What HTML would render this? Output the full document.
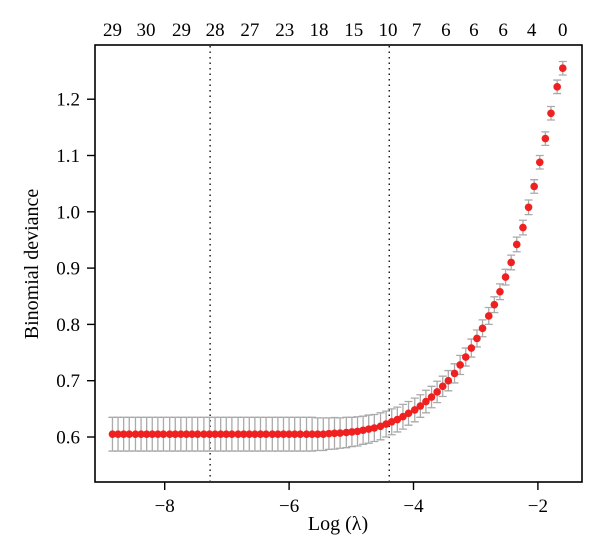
<!DOCTYPE html>
<html><head><meta charset="utf-8"><style>
html,body{margin:0;padding:0;background:#fff;}
svg{display:block;font-family:"Liberation Serif",serif;}
</style></head><body>
<svg id="chart" width="600" height="555" viewBox="0 0 600 555" xmlns="http://www.w3.org/2000/svg">
<rect x="95" y="45" width="487" height="437" fill="none" stroke="#000" stroke-width="1.6"/>
<text x="338" y="530" font-size="20" text-anchor="middle">Log (λ)</text>
<text x="38" y="264" font-size="20" text-anchor="middle" transform="rotate(-90 38 264)">Binomial deviance</text>
<g id="g"></g>
</svg>
<script>
const logLambda=[-8.84,-8.75,-8.66,-8.57,-8.47,-8.38,-8.29,-8.20,-8.11,-8.02,-7.92,-7.83,-7.74,-7.65,-7.56,-7.47,-7.37,-7.28,-7.19,-7.10,-7.01,-6.92,-6.82,-6.73,-6.64,-6.55,-6.46,-6.37,-6.27,-6.18,-6.09,-6.00,-5.91,-5.82,-5.72,-5.63,-5.54,-5.45,-5.36,-5.27,-5.18,-5.08,-4.99,-4.90,-4.81,-4.72,-4.63,-4.53,-4.44,-4.35,-4.26,-4.17,-4.08,-3.98,-3.89,-3.80,-3.71,-3.62,-3.53,-3.44,-3.34,-3.25,-3.16,-3.07,-2.98,-2.89,-2.79,-2.70,-2.61,-2.52,-2.43,-2.34,-2.24,-2.15,-2.06,-1.97,-1.88,-1.79,-1.69,-1.60];
const deviance=[0.605,0.605,0.605,0.605,0.605,0.605,0.605,0.605,0.605,0.605,0.605,0.605,0.605,0.605,0.605,0.605,0.605,0.605,0.605,0.605,0.605,0.605,0.605,0.605,0.605,0.605,0.605,0.605,0.605,0.605,0.605,0.605,0.605,0.605,0.605,0.605,0.605,0.605,
0.606,0.6065,0.607,0.608,0.609,0.610,0.612,0.614,0.616,0.619,0.623,0.627,0.631,0.636,0.642,0.648,0.655,0.663,0.671,0.68,0.69,0.70,0.713,0.728,0.742,0.758,0.775,0.793,0.815,0.835,0.858,0.884,0.91,0.942,0.972,1.008,1.045,1.088,1.13,1.175,1.222,1.255];
const stdErr=[0.03,0.03,0.03,0.03,0.03,0.03,0.03,0.03,0.03,0.03,0.03,0.03,0.03,0.03,0.03,0.03,0.03,0.03,0.03,0.03,0.03,0.03,0.03,0.03,0.03,0.03,0.03,0.03,0.03,0.03,0.03,0.03,0.03,0.03,0.03,0.03,0.029,0.029,
0.028,0.028,0.027,0.027,0.026,0.026,0.025,0.025,0.024,0.024,0.023,0.023,0.022,0.022,0.021,0.021,0.02,0.02,0.019,0.019,0.018,0.018,0.017,0.017,0.016,0.016,0.015,0.015,0.015,0.014,0.014,0.014,0.013,0.013,0.013,0.013,0.012,0.012,0.012,0.012,0.012,0.012,0.012,0.012];
const xTicks=[-8,-6,-4,-2];
const yTicks=[0.6,0.7,0.8,0.9,1.0,1.1,1.2];
const yTickLabels=["0.6","0.7","0.8","0.9","1.0","1.1","1.2"];
const topLabels=["29","30","29","28","27","23","18","15","10","7","6","6","6","4","0"];
const topLabelPos=[-8.84,-8.30,-7.73,-7.19,-6.63,-6.07,-5.52,-4.96,-4.41,-3.95,-3.48,-3.03,-2.56,-2.10,-1.60];
const vLines=[-7.27,-4.39];

const X=v=>413.5+(v+4)*62.2;
const Y=v=>437-(v-0.6)*563;
const NS="http://www.w3.org/2000/svg";
const g=document.getElementById('g');
function mk(t,a){const e=document.createElementNS(NS,t);for(const k in a)e.setAttribute(k,a[k]);g.appendChild(e);return e;}

xTicks.forEach(v=>{
  const l=mk('line',{x1:X(v),x2:X(v),y1:482,y2:490,stroke:'#000','stroke-width':1.4});
  
  
  const t=mk('text',{x:X(v),y:512,'font-size':19,'text-anchor':'middle'});
  t.textContent='\u2212'+Math.abs(v);
  
  
});
yTicks.forEach((v,i)=>{
  const l=mk('line',{x1:87,x2:95,y1:Y(v),y2:Y(v),stroke:'#000','stroke-width':1.4});
  
  
  const t=mk('text',{x:80,y:Y(v)+6.5,'font-size':19,'text-anchor':'end'});
  t.textContent=yTickLabels[i];
  
  
});
topLabels.forEach((s,i)=>{
  const t=mk('text',{x:X(topLabelPos[i]),y:36,'font-size':19,'text-anchor':'middle'});
  t.textContent=s;
  
  
});
vLines.forEach(v=>{
  const l=mk('line',{x1:X(v),x2:X(v),y1:46,y2:481,stroke:'#000','stroke-width':1.3,'stroke-dasharray':'1.5,4'});
  
  
});
logLambda.forEach((lv,i)=>{
  const x=X(lv),yu=Y(deviance[i]+stdErr[i]),yl=Y(deviance[i]-stdErr[i]);
  const e=mk('path',{d:`M${x},${yu}V${yl}M${x-4},${yu}H${x+4}M${x-4},${yl}H${x+4}`,stroke:'#aaa','stroke-width':1.3,fill:'none'});
  
  
});
logLambda.forEach((lv,i)=>{
  const c=mk('circle',{cx:X(lv),cy:Y(deviance[i]),r:3.8,fill:'#f02020'});
  
  
});
</script>
</body></html>
